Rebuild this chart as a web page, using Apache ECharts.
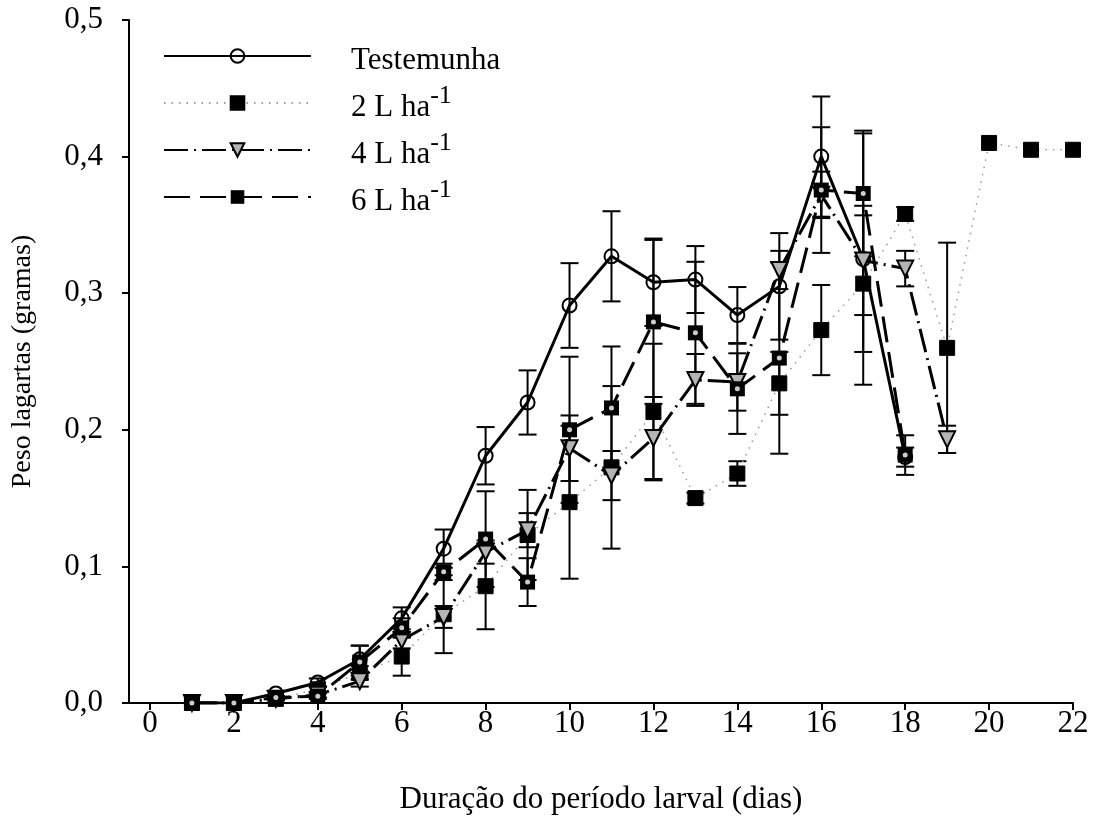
<!DOCTYPE html>
<html>
<head>
<meta charset="utf-8">
<script src="https://cdn.jsdelivr.net/npm/echarts@6/dist/echarts.min.js"></script>
<style>html,body{margin:0;padding:0;background:#fff}#c{width:1095px;height:827px}</style>
</head>
<body>
<div id="c"></div>
<script>
const days = [1,2,3,4,5,6,7,8,9,10,11,12,13,14,15,16,17,18,19,20,21,22];
const xTicks = [0,2,4,6,8,10,12,14,16,18,20,22];
const yTicks = [0,0.1,0.2,0.3,0.4,0.5];
const seriesNames = ['Testemunha','2 L ha-1','4 L ha-1','6 L ha-1'];

const testemunha = [0,0,0.007,0.015,0.032,0.062,0.113,0.181,0.22,0.291,0.327,0.308,0.31,0.284,0.305,0.40,0.325,0.18];
const errTestemunha = [0,0,0.002,0.003,0.01,0.008,0.014,0.021,0.0235,0.031,0.033,0.032,0.0245,0.0205,0.039,0.044,0.092,0.007];

const dose2 = [0,0,0.003,0.01,0.022,0.034,0.065,0.0855,0.123,0.147,0.1725,0.213,0.15,0.168,0.234,0.273,0.307,0.358,0.26,0.41,0.405,0.405];
const errDose2 = [0,0,0.001,0.002,0.005,0.014,0.0285,0.0315,0.033,0.056,0.0595,0.05,0.004,0.009,0.023,0.033,0.05,0.005,0.077,0,0,0];

const dose4 = [0,0,0.003,0.006,0.016,0.046,0.063,0.1105,0.1265,0.1865,0.1665,0.194,0.2365,0.235,0.317,0.372,0.324,0.318,0.193];
const errDose4 = [0,0,0.001,0.002,0.004,0.006,0.008,0.0085,0.0125,0.024,0.018,0.03,0.019,0.021,0.014,0.017,0.04,0.013,0.01];

const dose6 = [0,0,0.004,0.005,0.030,0.055,0.096,0.12,0.0885,0.20,0.216,0.279,0.271,0.23,0.2525,0.3755,0.373,0.1815];
const errDose6 = [0,0,0.001,0.002,0.012,0.007,0.006,0.035,0.0175,0.0535,0.045,0.06,0.052,0.033,0.07,0.046,0.046,0.0145];

const FONT = 'Liberation Serif';
const FS = 31;

function pts(vals){ return vals.map((v,i)=>[days[i], v]); }
function errData(vals, errs){
  const out = [];
  vals.forEach((v,i)=>{ if (errs[i] > 0) out.push([days[i], v - errs[i], v + errs[i]]); });
  return out;
}
function renderErr(params, api){
  const x = api.value(0), lo = api.value(1), hi = api.value(2);
  const t = api.coord([x, hi]), b = api.coord([x, lo]);
  const hw = 9;
  const st = {stroke:'#000', lineWidth:2};
  return {type:'group', children:[
    {type:'line', shape:{x1:t[0],y1:t[1],x2:b[0],y2:b[1]}, style:st},
    {type:'line', shape:{x1:t[0]-hw,y1:t[1],x2:t[0]+hw,y2:t[1]}, style:st},
    {type:'line', shape:{x1:b[0]-hw,y1:b[1],x2:b[0]+hw,y2:b[1]}, style:st}
  ]};
}
function errSeries(vals, errs){
  return {type:'custom', renderItem:renderErr, data:errData(vals, errs), encode:{x:0,y:[1,2]}, z:1, silent:true};
}

const chart = echarts.init(document.getElementById('c'), null, {renderer:'canvas'});
chart.setOption({
  backgroundColor:'#fff',
  animation:false,
  grid:{left:129, right:22, top:20, bottom:124, containLabel:false},
  legend:{
    data:seriesNames,
    orient:'vertical',
    left:163, top:45, padding:0,
    itemWidth:147, itemHeight:17, itemGap:7,
    textStyle:{
      fontFamily:FONT, fontSize:FS, color:'#000', padding:[0,0,0,35],
      rich:{
        a:{fontFamily:FONT, fontSize:FS, color:'#000', lineHeight:40, verticalAlign:'bottom'},
        s:{fontFamily:FONT, fontSize:26, color:'#000', lineHeight:40, verticalAlign:'top'}
      }
    },
    formatter:function(n){
      const m = n.match(/^(.*)-1$/);
      if (m) return '{a|' + m[1] + '}{s|-1}';
      return '{a|' + n + '}';
    }
  },
  xAxis:{
    type:'value', min:-0.5, max:22,
    name:'Duração do período larval (dias)', nameLocation:'middle', nameGap:81,
    nameTextStyle:{fontFamily:FONT, fontSize:FS, color:'#000'},
    axisLine:{show:true, onZero:false, lineStyle:{color:'#000', width:2}},
    axisTick:{show:true, length:7, lineStyle:{color:'#000', width:2}, customValues:xTicks},
    axisLabel:{fontFamily:FONT, fontSize:FS, color:'#000', margin:5, customValues:xTicks},
    splitLine:{show:false}
  },
  yAxis:{
    type:'value', min:0, max:0.5, interval:0.1,
    name:'Peso lagartas (gramas)', nameLocation:'middle', nameGap:92, nameRotate:90,
    nameTextStyle:{fontFamily:FONT, fontSize:28, color:'#000'},
    axisLine:{show:true, onZero:false, lineStyle:{color:'#000', width:2}},
    axisTick:{show:true, length:7, lineStyle:{color:'#000', width:2}},
    axisLabel:{fontFamily:FONT, fontSize:FS, color:'#000', margin:26,
      formatter:function(v){ return v.toFixed(1).replace('.', ','); }},
    splitLine:{show:false}
  },
  series:[
    errSeries(testemunha, errTestemunha),
    errSeries(dose2, errDose2),
    errSeries(dose4, errDose4),
    errSeries(dose6, errDose6),
    {name:seriesNames[0], type:'line', data:pts(testemunha), z:3,
      symbol:'circle', symbolSize:14,
      lineStyle:{color:'#000', width:3, type:'solid'},
      itemStyle:{color:'rgba(255,255,255,0)', borderColor:'#000', borderWidth:2}},
    {name:seriesNames[1], type:'line', data:pts(dose2), z:4,
      symbol:'rect', symbolSize:15,
      lineStyle:{color:'#999', width:1.5, type:[1.5,6]},
      itemStyle:{color:'#000', borderColor:'#000', borderWidth:1}},
    {name:seriesNames[2], type:'line', data:pts(dose4), z:5,
      symbol:'triangle', symbolRotate:180, symbolSize:16,
      lineStyle:{color:'#000', width:3, type:[24,6,2,6]},
      itemStyle:{color:'#b4b4b4', borderColor:'#000', borderWidth:2}},
    {name:seriesNames[3], type:'line', data:pts(dose6), z:6,
      symbol:'rect', symbolSize:15,
      lineStyle:{color:'#000', width:3, type:[26,10]},
      itemStyle:{color:'#000', borderColor:'#000', borderWidth:0}},
    {type:'scatter', data:pts(dose6), z:7, silent:true,
      symbol:'circle', symbolSize:5,
      itemStyle:{color:'#fff'}}
  ]
});
</script>
</body>
</html>
